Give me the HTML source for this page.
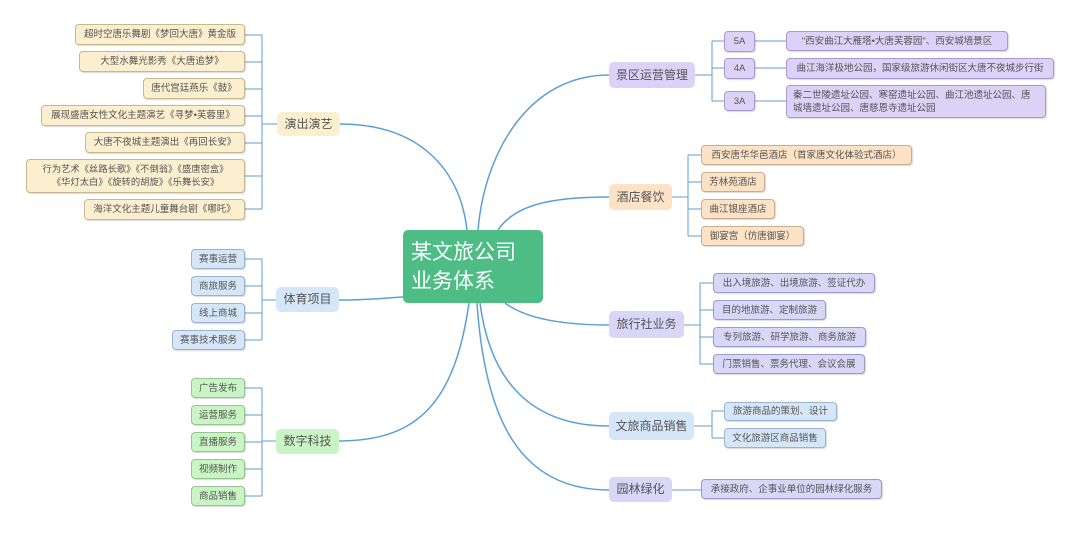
<!DOCTYPE html>
<html><head><meta charset="utf-8"><style>
body{margin:0;width:1080px;height:534px;background:#fff;position:relative;overflow:hidden;font-family:"Liberation Sans","Noto Sans CJK SC",sans-serif;}
.n{position:absolute;box-sizing:border-box;border-radius:4px;font-size:9.5px;color:#555;display:flex;align-items:center;justify-content:center;padding:0 3px;white-space:nowrap;line-height:13px;box-shadow:1px 1px 1px rgba(0,0,0,0.15);}
.y{background:#fcefcf;border:1px solid #c8b88e;}
.p{background:#dcd2f8;border:1px solid #a89bcc;}
.o{background:#fde2c6;border:1px solid #c8ad8e;}
.v{background:#d9d6f8;border:1px solid #9d99c8;}
.b{background:#d5e6f8;border:1px solid #9bb3cc;}
.g{background:#c9f5c4;border:1px solid #98c392;}
.m{font-size:12px;justify-content:center;border:none;box-shadow:none;border-radius:5px;}
.l{justify-content:flex-start;padding-left:6px;}
svg{position:absolute;left:0;top:0;}
</style></head><body>
<svg width="1080" height="534" fill="none" stroke="#5b9fd6" stroke-width="1.5">
<path d="M340,124 C420,124 460,170 467,230"/>
<path d="M609,75 C530,75 485,150 478,230"/>
<path d="M609,197 C550,197 515,205 498,230"/>
<path d="M339,300 C370,300 385,298 403,297"/>
<path d="M609,325 C560,325 525,318 505,303"/>
<path d="M339,441 C420,441 455,400 469,303"/>
<path d="M609,426 C530,426 490,380 480,303"/>
<path d="M609,490 C520,490 485,420 477,303"/>
<g stroke-width="1">
<path d="M277,124 H262 M262,35 V209 M245,35 H262 M245,62 H262 M245,89 H262 M245,116 H262 M245,143 H262 M245,176 H262 M245,209 H262"/>
<path d="M276,300 H262 M262,259 V340 M245,259 H262 M245,286 H262 M245,313 H262 M245,340 H262"/>
<path d="M276,441 H262 M262,388 V496 M245,388 H262 M245,415 H262 M245,442 H262 M245,469 H262 M245,496 H262"/>
<path d="M695,75 H712 M712,41 V101 M712,41 H724 M712,68 H724 M712,101 H724 M755,41 H786 M755,68 H786 M755,101 H786"/>
<path d="M672,197 H688 M688,155 V236 M688,155 H701 M688,182 H701 M688,209 H701 M688,236 H701"/>
<path d="M684,325 H700 M700,283 V364 M700,283 H713 M700,310 H713 M700,337 H713 M700,364 H713"/>
<path d="M694,426 H712 M712,411 V438 M712,411 H724 M712,438 H724"/>
<path d="M672,490 H701"/>
</g>
</svg>
<div class="n m" style="left:403px;top:230px;width:140px;height:73px;background:#4dbd85;color:#fff;font-size:21px;line-height:29px;justify-content:flex-start;padding-left:8px;white-space:normal;">某文旅公司<br>业务体系</div>

<div class="n y m" style="left:277px;top:112px;width:63px;height:24px;">演出演艺</div>
<div class="n y" style="left:75px;top:24px;width:170px;height:21px;">超时空唐乐舞剧《梦回大唐》黄金版</div>
<div class="n y" style="left:79px;top:51px;width:166px;height:21px;">大型水舞光影秀《大唐追梦》</div>
<div class="n y" style="left:143px;top:78px;width:102px;height:21px;">唐代宫廷燕乐《鼓》</div>
<div class="n y" style="left:41px;top:105px;width:204px;height:21px;">展现盛唐女性文化主题演艺《寻梦•芙蓉里》</div>
<div class="n y" style="left:85px;top:132px;width:160px;height:21px;">大唐不夜城主题演出《再回长安》</div>
<div class="n y" style="left:26px;top:159px;width:219px;height:34px;text-align:center;white-space:normal;font-size:9.3px;">行为艺术《丝路长歌》《不倒翁》《盛唐密盒》<br>《华灯太白》《旋转的胡旋》《乐舞长安》</div>
<div class="n y" style="left:84px;top:199px;width:161px;height:21px;">海洋文化主题儿童舞台剧《哪吒》</div>

<div class="n b m" style="left:276px;top:287px;width:63px;height:25px;">体育项目</div>
<div class="n b" style="left:191px;top:249px;width:54px;height:20px;">赛事运营</div>
<div class="n b" style="left:191px;top:276px;width:54px;height:20px;">商旅服务</div>
<div class="n b" style="left:191px;top:303px;width:54px;height:20px;">线上商城</div>
<div class="n b" style="left:172px;top:330px;width:73px;height:20px;">赛事技术服务</div>

<div class="n g m" style="left:276px;top:429px;width:63px;height:25px;">数字科技</div>
<div class="n g" style="left:191px;top:378px;width:54px;height:20px;">广告发布</div>
<div class="n g" style="left:191px;top:405px;width:54px;height:20px;">运营服务</div>
<div class="n g" style="left:191px;top:432px;width:54px;height:20px;">直播服务</div>
<div class="n g" style="left:191px;top:459px;width:54px;height:20px;">视频制作</div>
<div class="n g" style="left:191px;top:486px;width:54px;height:20px;">商品销售</div>

<div class="n p m" style="left:609px;top:62px;width:86px;height:26px;">景区运营管理</div>
<div class="n p" style="left:724px;top:31px;width:31px;height:21px;">5A</div>
<div class="n p" style="left:724px;top:58px;width:31px;height:21px;">4A</div>
<div class="n p" style="left:724px;top:91px;width:31px;height:20px;">3A</div>
<div class="n p" style="left:786px;top:31px;width:222px;height:20px;">"西安曲江大雁塔•大唐芙蓉园"、西安城墙景区</div>
<div class="n p" style="left:786px;top:58px;width:268px;height:21px;">曲江海洋极地公园，国家级旅游休闲街区大唐不夜城步行街</div>
<div class="n p l" style="left:786px;top:85px;width:260px;height:33px;white-space:normal;">秦二世陵遗址公园、寒窑遗址公园、曲江池遗址公园、唐<br>城墙遗址公园、唐慈恩寺遗址公园</div>

<div class="n o m" style="left:609px;top:184px;width:63px;height:26px;">酒店餐饮</div>
<div class="n o" style="left:701px;top:145px;width:211px;height:20px;">西安唐华华邑酒店（首家唐文化体验式酒店）</div>
<div class="n o" style="left:701px;top:172px;width:64px;height:20px;">芳林苑酒店</div>
<div class="n o" style="left:701px;top:199px;width:74px;height:20px;">曲江银座酒店</div>
<div class="n o" style="left:701px;top:226px;width:103px;height:20px;">御宴宫（仿唐御宴）</div>

<div class="n v m" style="left:609px;top:311px;width:75px;height:27px;">旅行社业务</div>
<div class="n v" style="left:713px;top:273px;width:162px;height:20px;">出入境旅游、出境旅游、签证代办</div>
<div class="n v" style="left:713px;top:300px;width:113px;height:20px;">目的地旅游、定制旅游</div>
<div class="n v" style="left:713px;top:327px;width:153px;height:20px;">专列旅游、研学旅游、商务旅游</div>
<div class="n v" style="left:713px;top:354px;width:152px;height:20px;">门票销售、票务代理、会议会展</div>

<div class="n b m" style="left:609px;top:412px;width:85px;height:28px;">文旅商品销售</div>
<div class="n b" style="left:724px;top:402px;width:113px;height:19px;">旅游商品的策划、设计</div>
<div class="n b" style="left:724px;top:428px;width:102px;height:20px;">文化旅游区商品销售</div>

<div class="n v m" style="left:609px;top:477px;width:63px;height:25px;">园林绿化</div>
<div class="n v" style="left:701px;top:479px;width:181px;height:20px;">承接政府、企事业单位的园林绿化服务</div>
</body></html>
